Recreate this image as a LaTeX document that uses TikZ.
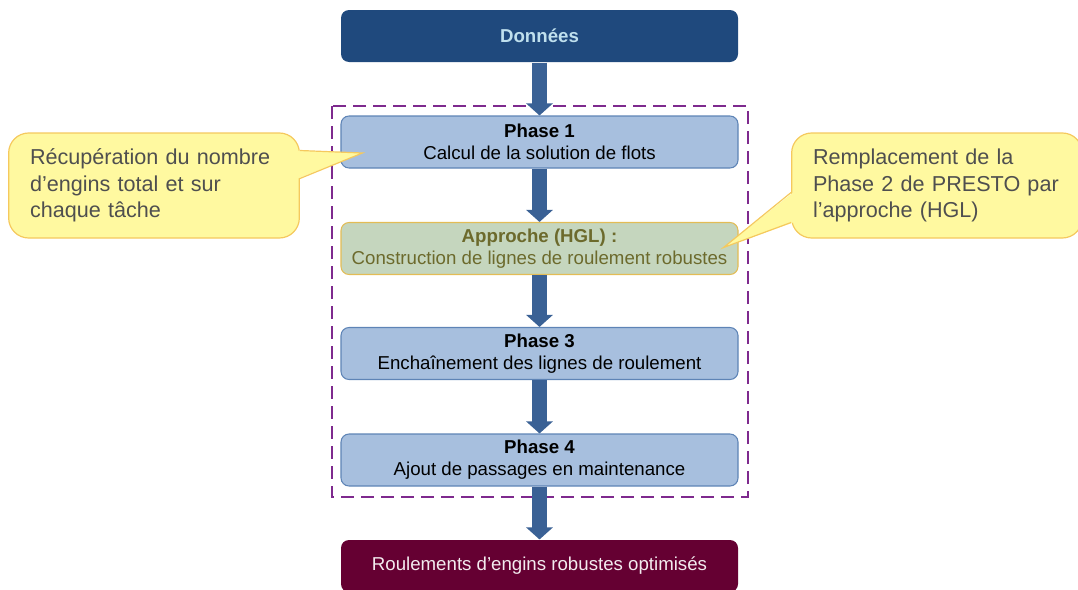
\documentclass[tikz,border=0pt]{standalone}
\usepackage{fontspec}
\setmainfont{Liberation Sans}
\usetikzlibrary{arrows.meta,calc}
\definecolor{prNavy}{HTML}{1F497D}
\definecolor{prSky}{HTML}{A7BFDE}
\definecolor{prEdge}{HTML}{5E84B6}
\definecolor{prFlow}{HTML}{3A6195}
\definecolor{prSage}{HTML}{C5D6BE}
\definecolor{prGold}{HTML}{E3BC55}
\definecolor{prOlive}{HTML}{6C6A2C}
\definecolor{prWine}{HTML}{650032}
\definecolor{prPurple}{HTML}{7E2A8E}
\definecolor{prNote}{HTML}{FFF9A0}
\definecolor{prNoteEdge}{HTML}{F5C95E}
\definecolor{prInk}{HTML}{4F4F4F}
\definecolor{prPale}{HTML}{BFE0EE}

\begin{document}
\begin{tikzpicture}[x=0.75pt,y=-0.75pt,phase/.style={draw=prEdge,fill=prSky,line width=0.8pt,rounded corners=6pt,minimum width=297.75pt,minimum height=39pt,align=center,font=\fontsize{14}{16.5}\selectfont},endbox/.style={phase,draw=none},note/.style={draw=prNoteEdge,fill=prNote,line width=0.9pt,rounded corners=15pt,text width=186pt,inner xsep=16pt,minimum height=78.75pt,align=left,text=prInk,font=\fontsize{16.2}{20}\selectfont},flow/.style={-{Triangle[width=19.5pt,length=9pt]},line width=11pt,prFlow}]
    \useasboundingbox (0,0) rectangle (1078,589);
    % zone of the method
    \draw[prPurple,line width=2pt,dash pattern=on 10pt off 5pt] (332,106) rectangle (748,497);
    \node[endbox,fill=prNavy,text=prPale] (don) at (539.5,36) {\textbf{Données}};
    \node[phase] (ph1) at (539.5,142) {\textbf{Phase 1}\\Calcul de la solution de flots};
    \node[phase,draw=prGold,fill=prSage,text=prOlive] (hgl) at (539.5,248.5) {\textbf{Approche (HGL) :}\\Construction de lignes de roulement robustes};
    \node[phase] (ph3) at (539.5,353.5) {\textbf{Phase 3}\\Enchaînement des lignes de roulement};
    \node[phase] (ph4) at (539.5,460) {\textbf{Phase 4}\\Ajout de passages en maintenance};
    \node[endbox,fill=prWine,text=white!92!prWine] (res) at (539.5,566) {Roulements d’engins robustes optimisés};
    \draw[flow] (don.south)--(ph1.north);
    \draw[flow] (ph1.south)--(hgl.north);
    \draw[flow] (hgl.south)--(ph3.north);
    \draw[flow] (ph3.south)--(ph4.north);
    \draw[flow] (ph4.south)--(res.north);
    % notes
    \node[note] (gauche) at (154,185.5) {Récupération du nombre\\d’engins total et sur\\chaque tâche};
    \coordinate (tipG) at ($(ph1.west)+(22,11)$);
    \fill[prNote] ($(gauche.east)+(-2,-35)$) -- (tipG) -- ($(gauche.east)+(-2,-7)$) -- cycle;
    \draw[prNoteEdge,line width=0.9pt] ($(gauche.east)+(0,-35)$) -- (tipG) -- ($(gauche.east)+(0,-7)$);
    \node[note] (droite) at (937,185.5) {Remplacement de la\\Phase 2 de PRESTO par\\l’approche (HGL)};
    \coordinate (tipD) at ($(hgl.east)+(-15,-1)$);
    \fill[prNote] ($(droite.west)+(2,7)$) -- (tipD) -- ($(droite.west)+(2,37)$) -- cycle;
    \draw[prNoteEdge,line width=0.9pt] ($(droite.west)+(0,7)$) -- (tipD) -- ($(droite.west)+(0,37)$);
  \end{tikzpicture}
\end{document}
